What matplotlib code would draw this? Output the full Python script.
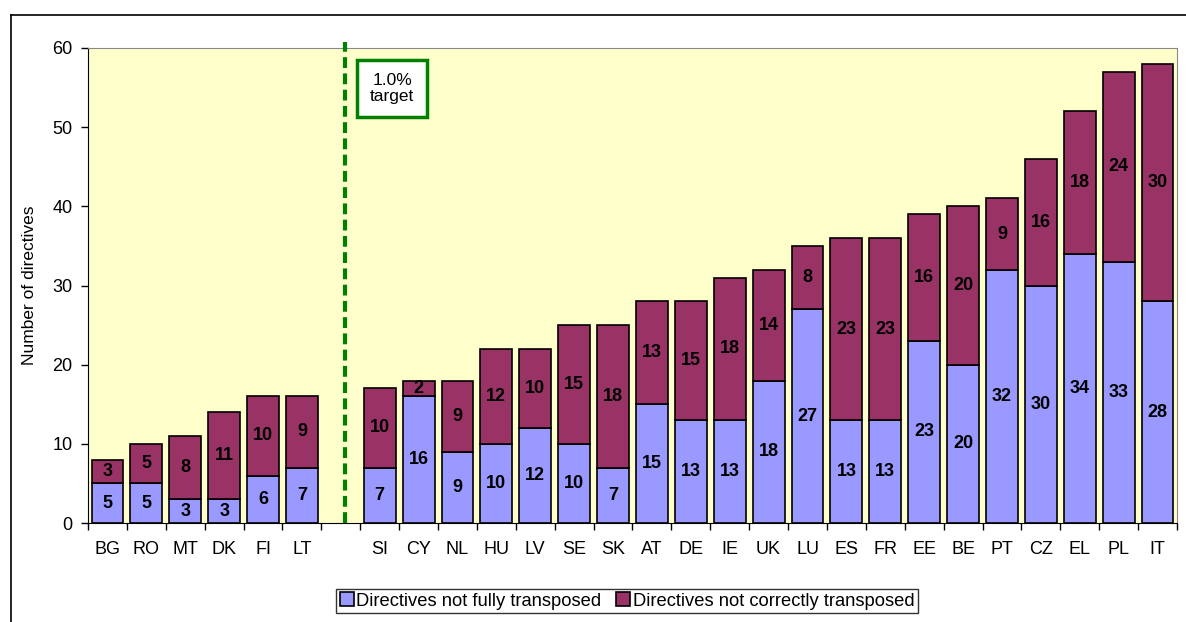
import matplotlib
matplotlib.use("Agg")
import matplotlib.pyplot as plt
from matplotlib.lines import Line2D
import numpy as np

plt.rcParams['font.family'] = ['Liberation Sans', 'DejaVu Sans']

countries = ["BG", "RO", "MT", "DK", "FI", "LT", "",
             "SI", "CY", "NL", "HU", "LV", "SE", "SK", "AT", "DE", "IE", "UK",
             "LU", "ES", "FR", "EE", "BE", "PT", "CZ", "EL", "PL", "IT"]
not_fully = [5, 5, 3, 3, 6, 7, None,
             7, 16, 9, 10, 12, 10, 7, 15, 13, 13, 18, 27, 13, 13, 23, 20, 32, 30, 34, 33, 28]
not_correctly = [3, 5, 8, 11, 10, 9, None,
                 10, 2, 9, 12, 10, 15, 18, 13, 15, 18, 14, 8, 23, 23, 16, 20, 9, 16, 18, 24, 30]
series_names = ["Directives not fully transposed", "Directives not correctly transposed"]
target_label = "1.0%\ntarget"

c_blue = "#9999FF"
c_purple = "#993366"

fig = plt.figure(figsize=(11.86, 6.22), dpi=100)
W, H = 1186, 622
ax = fig.add_axes([88 / W, 1 - 523 / H, (1177 - 88) / W, (523 - 48) / H])
ax.set_facecolor("#FFFFCC")

x = np.arange(len(countries))
idx = [i for i, v in enumerate(not_fully) if v is not None]
nf = np.array([not_fully[i] for i in idx])
nc = np.array([not_correctly[i] for i in idx])
xi = x[idx]
bw = 0.82
b1 = ax.bar(xi, nf, width=bw, color=c_blue, edgecolor="black", linewidth=1.2, zorder=2)
b2 = ax.bar(xi, nc, bottom=nf, width=bw, color=c_purple, edgecolor="black", linewidth=1.2, zorder=2)

for xx, a, b in zip(xi, nf, nc):
    ax.text(xx, a / 2, str(a), ha="center", va="center", fontsize=13, fontweight="bold", zorder=3)
    ax.text(xx, a + b / 2, str(b), ha="center", va="center", fontsize=13, fontweight="bold", zorder=3)

ax.set_xlim(-0.5, len(countries) - 0.5)
ax.set_ylim(0, 60)
ax.set_yticks(range(0, 61, 10))
ax.tick_params(axis="y", labelsize=13, length=5, width=1, direction="out", pad=6)
ax.set_xticks(np.arange(len(countries) + 1) - 0.5, minor=False)
ax.set_xticklabels([])
ax.tick_params(axis="x", length=5, width=1, direction="out")
ax.set_xticks(x, minor=True)
ax.set_xticklabels(countries, minor=True)
ax.tick_params(axis="x", which="minor", length=0, labelsize=13, pad=13)

ax.spines["left"].set_color("black")
ax.spines["bottom"].set_color("black")
ax.spines["top"].set_color("#888888")
ax.spines["right"].set_color("#888888")

ax.set_ylabel("Number of directives", fontsize=12.5)
ax.yaxis.set_label_coords(-0.047, 0.5)

# target line
ax.plot([6.11, 6.11], [0, 60.8], color="#008000", linestyle=(0, (2.6, 1.3)), linewidth=3,
        zorder=4, clip_on=False)
ax.text(7.32, 54.9, target_label, ha="center", va="center", fontsize=12.5, zorder=5,
        linespacing=1.1,
        bbox=dict(boxstyle="square,pad=0.75", facecolor="white", edgecolor="#008000", linewidth=2.5))

leg = fig.legend([b1, b2], series_names, loc="center", bbox_to_anchor=(627 / W, 1 - 601 / H),
                 ncol=2, fontsize=13.2, frameon=True, fancybox=False, edgecolor="black",
                 handlelength=0.75, handleheight=0.75, handletextpad=0.15, columnspacing=0.8,
                 borderpad=0.2)
leg.get_frame().set_linewidth(1)

# outer frame
fig.add_artist(Line2D([11 / W, 11 / W], [0, 1 - 15 / H], transform=fig.transFigure, color="black", linewidth=1.2))
fig.add_artist(Line2D([11 / W, 1], [1 - 15 / H, 1 - 15 / H], transform=fig.transFigure, color="black", linewidth=1.2))

fig.savefig("out.png", dpi=100)
